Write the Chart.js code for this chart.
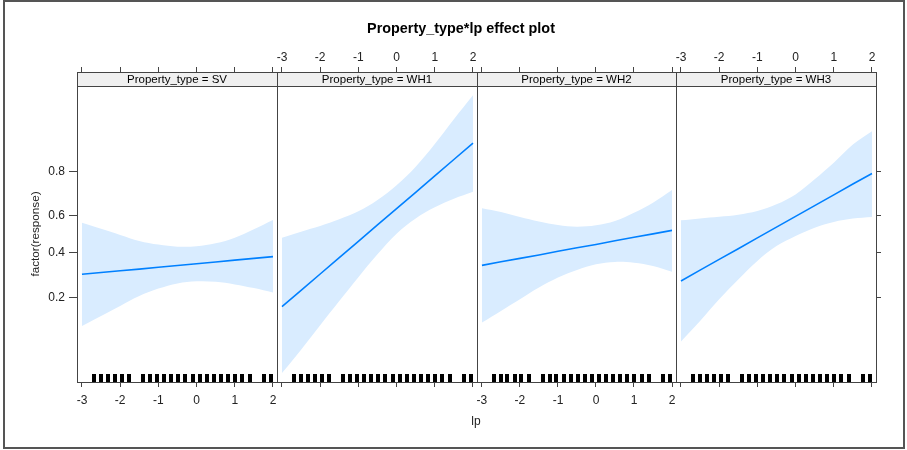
<!DOCTYPE html>
<html><head><meta charset="utf-8">
<script src="https://cdn.jsdelivr.net/npm/chart.js"></script>
<style>
html,body{margin:0;padding:0;background:#fff;}
#wrap{position:relative;width:907px;height:450px;overflow:hidden;background:#fff;font-family:"Liberation Sans",Arial,sans-serif;}
#frame{position:absolute;left:3px;top:0px;width:898px;height:445px;border:2px solid #555;}
canvas{position:absolute;left:0;top:0;pointer-events:none;}
.txt{position:absolute;white-space:nowrap;color:#000;line-height:1;font-weight:400;}
#title{left:461px;top:28px;transform:translate(-50%,-50%);font-weight:700;font-size:14.4px;}
#xlab{left:476px;top:421px;transform:translate(-50%,-50%);font-size:12px;color:#222;}
</style></head><body>
<div id="wrap">
  <div id="frame"></div>
  <canvas id="c0" width="907" height="450"></canvas>
  <canvas id="c1" width="907" height="450"></canvas>
  <canvas id="c2" width="907" height="450"></canvas>
  <canvas id="c3" width="907" height="450"></canvas>
  <div class="txt" id="title">Property_type*lp effect plot</div>
  <div class="txt" id="xlab">lp</div>
</div>
<script>
// ---------------- data ----------------
const categories = ["SV", "WH1", "WH2", "WH3"];
const lpGrid = [-3, -2.5, -2, -1.5, -1, -0.5, 0, 0.5, 1, 1.5, 2];

const fitSV  = [0.293, 0.301, 0.309, 0.317, 0.326, 0.334, 0.343, 0.352, 0.361, 0.370, 0.379];
const lowSV  = [0.117, 0.142, 0.171, 0.204, 0.232, 0.253, 0.262, 0.260, 0.249, 0.234, 0.217];
const upSV   = [0.563, 0.530, 0.496, 0.463, 0.443, 0.432, 0.434, 0.450, 0.481, 0.527, 0.577];

const fitWH1 = [0.169, 0.225, 0.294, 0.374, 0.461, 0.551, 0.637, 0.715, 0.783, 0.838, 0.881];
const lowWH1 = [0.045, 0.073, 0.119, 0.187, 0.280, 0.391, 0.503, 0.586, 0.644, 0.686, 0.718];
const upWH1  = [0.481, 0.514, 0.545, 0.581, 0.623, 0.680, 0.746, 0.815, 0.879, 0.926, 0.955];

const fitWH2 = [0.335, 0.353, 0.370, 0.388, 0.407, 0.426, 0.444, 0.464, 0.483, 0.502, 0.521];
const lowWH2 = [0.125, 0.156, 0.193, 0.236, 0.278, 0.313, 0.340, 0.352, 0.348, 0.332, 0.305];
const upWH2  = [0.639, 0.620, 0.593, 0.569, 0.550, 0.541, 0.549, 0.572, 0.616, 0.667, 0.726];

const fitWH3 = [0.263, 0.312, 0.365, 0.421, 0.480, 0.539, 0.597, 0.652, 0.704, 0.751, 0.792];
const lowWH3 = [0.086, 0.129, 0.193, 0.270, 0.357, 0.435, 0.490, 0.536, 0.567, 0.585, 0.593];
const upWH3  = [0.576, 0.586, 0.595, 0.606, 0.625, 0.659, 0.706, 0.770, 0.828, 0.878, 0.906];

const rugLp = [-2.69, -2.51, -2.33, -2.14, -1.96, -1.76, -1.40, -1.22, -1.04, -0.85, -0.66, -0.48,
               -0.30, -0.10, 0.09, 0.27, 0.46, 0.64, 0.82, 1.01, 1.20, 1.39, 1.77, 1.95];

const xTicks = [-3, -2, -1, 0, 1, 2];
const yTickProbs = [0.2, 0.4, 0.6, 0.8];
const yTickLabels = ["0.2", "0.4", "0.6", "0.8"];
const yAxisTitle = "factor(response)";

const fits = [fitSV, fitWH1, fitWH2, fitWH3];
const lows = [lowSV, lowWH1, lowWH2, lowWH3];
const ups  = [upSV, upWH1, upWH2, upWH3];

// ---------------- layout ----------------
const W = 907, H = 450;
const panelLeft  = [77, 277, 477, 676];
const panelRight = [277, 477, 676, 876];
const TOP = 72, BOTTOM = 382, STRIP = 14;
const YAXW = 45, YRW = 20, XTH = 30, XBH = 30;
const X_MIN = -3.13, X_MAX = 2.105;
const Y_MIN = -3.252, Y_MAX = 3.569;   // logit scale
const FAM = '"Liberation Sans", Arial, sans-serif';
const AXCOL = '#444', TXTCOL = '#222';
const LINECOL = '#0080ff', BANDCOL = '#d9ecff';

const logit = p => Math.log(p / (1 - p));

Chart.defaults.font.family = FAM;
Chart.defaults.color = TXTCOL;

const decor = {
  id: 'decor',
  beforeDatasetsDraw(chart, args, opts) {
    const {ctx, chartArea: a} = chart;
    ctx.save();
    ctx.fillStyle = '#f0f0f0';
    ctx.fillRect(a.left, a.top, a.right - a.left, STRIP);
    ctx.restore();
  },
  afterDatasetsDraw(chart, args, opts) {
    const {ctx, chartArea: a, scales} = chart;
    ctx.save();
    ctx.fillStyle = '#000';
    rugLp.forEach(v => {
      const x = Math.round(scales.x.getPixelForValue(v));
      ctx.fillRect(x - 2, a.bottom - 8, 4, 8);
    });
    ctx.strokeStyle = AXCOL;
    ctx.lineWidth = 1;
    ctx.beginPath();
    ctx.moveTo(a.left, a.top + STRIP + 0.5);
    ctx.lineTo(a.right, a.top + STRIP + 0.5);
    ctx.stroke();
    ctx.strokeRect(a.left + 0.5, a.top + 0.5, a.right - a.left, a.bottom - a.top);
    ctx.fillStyle = '#000';
    ctx.font = '11.5px ' + FAM;
    ctx.textAlign = 'center';
    ctx.textBaseline = 'middle';
    ctx.fillText(opts.label, (a.left + a.right) / 2, a.top + STRIP / 2 + 0.5);
    if (opts.yTitle) {
      ctx.translate(36, (a.top + STRIP + a.bottom) / 2);
      ctx.rotate(-Math.PI / 2);
      ctx.fillStyle = TXTCOL;
      ctx.font = '11.7px ' + FAM;
      ctx.fillText(opts.yTitle, 0, 0);
    }
    ctx.restore();
  }
};

function pts(arr) { return lpGrid.map((x, k) => ({x: x, y: logit(arr[k])})); }

function makePanel(i) {
  const showLeft = i === 0, showRight = i === 3;
  const xCommon = {
    type: 'linear', min: X_MIN, max: X_MAX,
    afterBuildTicks: s => { s.ticks = xTicks.map(v => ({value: v})); },
    grid: {display: true, drawOnChartArea: false, drawTicks: true, tickLength: 5, tickColor: AXCOL, tickWidth: 1},
    border: {display: false}
  };
  const scales = {
    x: Object.assign({}, xCommon, {
      position: 'bottom',
      afterFit: s => { s.height = XBH; s.paddingLeft = 0; s.paddingRight = 0; },
      ticks: {display: i % 2 === 0, color: TXTCOL, font: {size: 12}, padding: 6, maxRotation: 0, autoSkip: false,
              callback: v => String(v)}
    }),
    xt: Object.assign({}, xCommon, {
      position: 'top',
      afterFit: s => { s.height = XTH; s.paddingLeft = 0; s.paddingRight = 0; },
      ticks: {display: i % 2 === 1, color: TXTCOL, font: {size: 12}, padding: 2, maxRotation: 0, autoSkip: false,
              callback: v => String(v)}
    }),
    y: {
      type: 'linear', position: 'left', min: Y_MIN, max: Y_MAX, display: showLeft,
      afterBuildTicks: s => { s.ticks = yTickProbs.map(p => ({value: logit(p)})); },
      afterFit: s => { if (showLeft) s.width = YAXW; },
      grid: {display: true, drawOnChartArea: false, drawTicks: true, tickLength: 8, tickColor: AXCOL},
      border: {display: false},
      ticks: {color: TXTCOL, font: {size: 12}, padding: 4, autoSkip: false,
              callback: (v, idx) => yTickLabels[idx]}
    }
  };
  if (showRight) {
    scales.yr = {
      type: 'linear', position: 'right', min: Y_MIN, max: Y_MAX, display: true,
      afterBuildTicks: s => { s.ticks = yTickProbs.map(p => ({value: logit(p)})); },
      afterFit: s => { s.width = YRW; },
      grid: {display: true, drawOnChartArea: false, drawTicks: true, tickLength: 5, tickColor: AXCOL},
      border: {display: false},
      ticks: {display: false}
    };
  }
  const padding = {
    left: showLeft ? panelLeft[i] - YAXW : panelLeft[i],
    right: showRight ? W - panelRight[i] - YRW : W - panelRight[i],
    top: TOP - XTH,
    bottom: H - BOTTOM - XBH
  };
  new Chart(document.getElementById('c' + i), {
    type: 'line',
    data: {
      datasets: [
        {data: pts(fits[i]), borderColor: LINECOL, borderWidth: 1.6, pointRadius: 0, fill: false, tension: 0},
        {data: pts(ups[i]), borderColor: 'rgba(0,0,0,0)', borderWidth: 0, pointRadius: 0,
         backgroundColor: BANDCOL, fill: '+1', tension: 0.35},
        {data: pts(lows[i]), borderColor: 'rgba(0,0,0,0)', borderWidth: 0, pointRadius: 0,
         backgroundColor: BANDCOL, fill: false, tension: 0.35}
      ]
    },
    options: {
      responsive: false, animation: false, devicePixelRatio: 1,
      layout: {padding: padding},
      scales: scales,
      plugins: {legend: {display: false}, tooltip: {enabled: false}, title: {display: false},
                decor: {label: 'Property_type = ' + categories[i], yTitle: showLeft ? yAxisTitle : null}},
      events: []
    },
    plugins: [decor]
  });
}
for (let i = 0; i < 4; i++) makePanel(i);
</script>
</body></html>
